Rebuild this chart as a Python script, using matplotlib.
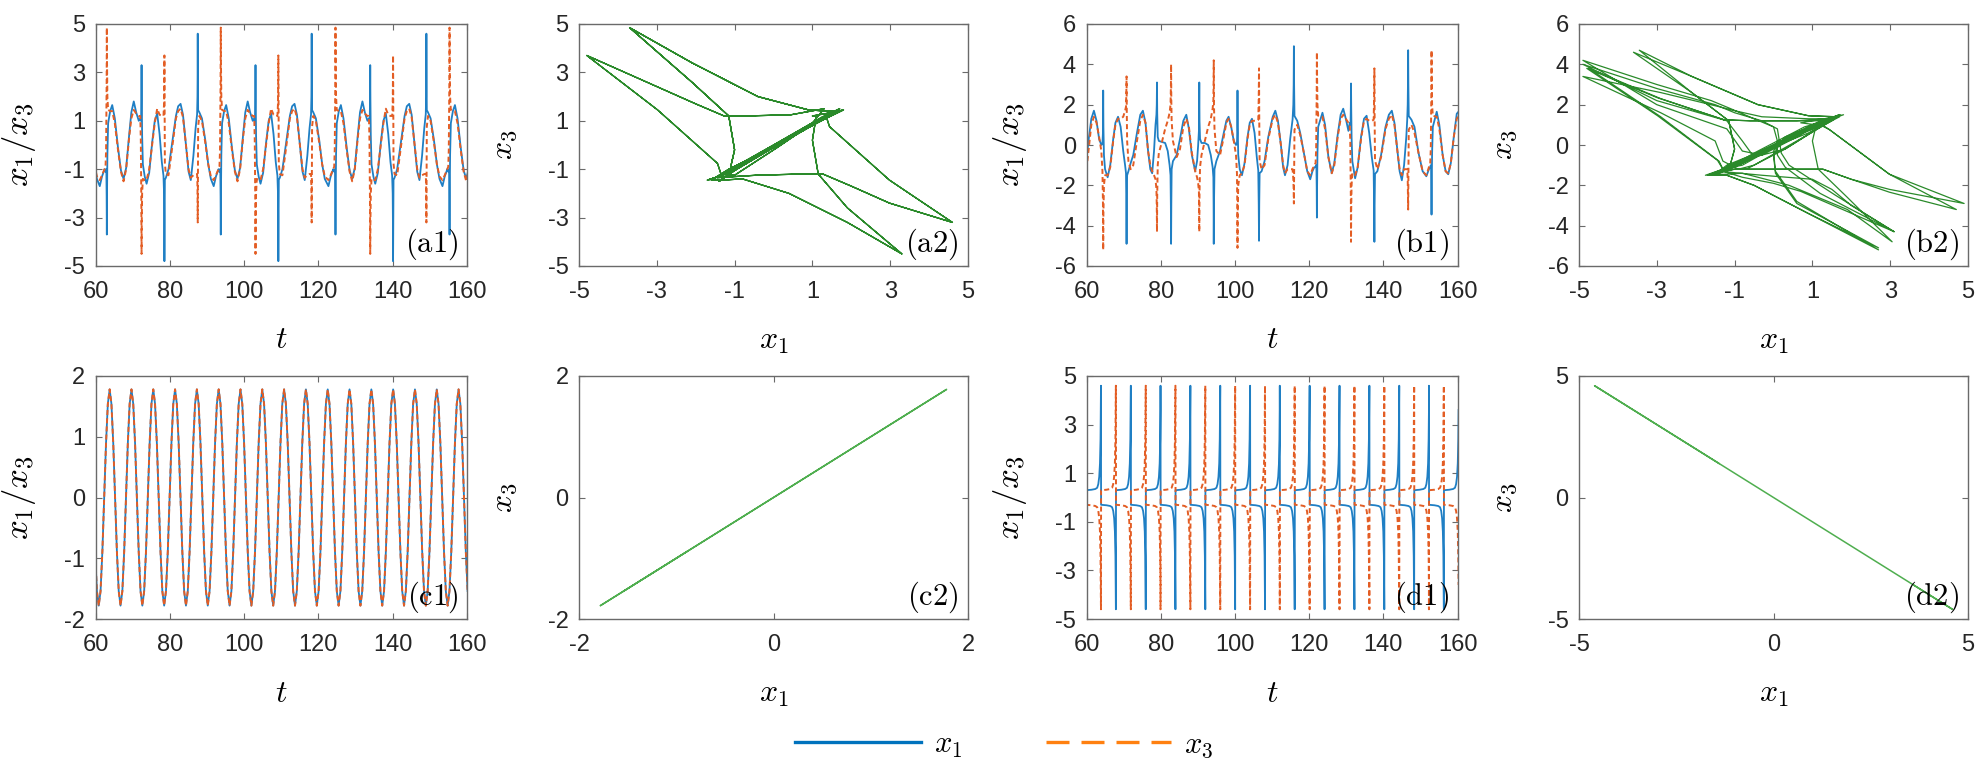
import numpy as np
import matplotlib
matplotlib.use("Agg")
import matplotlib.pyplot as plt
from matplotlib.lines import Line2D

plt.rcParams['font.family'] = ['Liberation Sans', 'DejaVu Sans']
plt.rcParams['mathtext.fontset'] = 'cm'
plt.rcParams['axes.unicode_minus'] = False

BLUE = '#1f7fc4'
ORANGE = '#e35d24'
GREEN = '#2a8a2a'
LIGHT_GREEN = '#4fae4f'
AXIS_GREY = '#6a6a6a'

a1_starts = [32.38, 63.05, 93.72, 124.6, 155.3]
a1_motif = [
    (-1.9, -1.7, -1.45), (-1.3, -1.3, -1.25), (-0.6, -1.0, -1.0),
    (-0.35, -1.1, -0.9), (-0.2, -1.0, -0.2), (-0.12, -1.15, 1.2),
    (-0.05, -2.1, 2.6), (0.0, -3.7, 4.85), (0.05, -2.1, 3.4),
    (0.15, -0.4, 2.0), (0.35, 0.9, 1.45), (0.9, 1.4, 1.4),
    (1.45, 1.65, 1.4), (2.15, 1.1, 0.9), (3.0, -0.1, -0.2),
    (3.8, -1.05, -1.1), (4.5, -1.4, -1.5), (5.2, -0.95, -1.0),
    (6.0, 0.4, 0.3), (6.6, 1.35, 1.1), (7.25, 1.8, 1.45),
    (7.9, 1.35, 1.3), (8.6, 1.0, 1.2), (9.0, 1.1, 1.2),
    (9.15, 1.0, 0.2), (9.23, 1.15, -1.2), (9.3, 1.9, -2.6),
    (9.35, 3.3, -4.5), (9.4, 1.9, -3.2), (9.5, 0.4, -2.0),
    (9.7, -0.8, -1.4), (10.2, -1.3, -1.45), (10.7, -1.6, -1.45),
    (11.4, -1.15, -1.0), (12.2, 0.1, 0.0), (12.9, 1.0, 0.9),
    (13.55, 1.3, 1.5), (14.2, 0.45, 1.25), (14.8, -0.7, 1.2),
    (15.25, -1.27, 1.2), (15.4, -2.0, 1.7), (15.45, -2.98, 2.4),
    (15.5, -4.8, 3.7), (15.55, -2.98, 1.45), (15.62, -1.44, -0.76),
    (15.9, -1.35, -1.2), (16.6, -1.0, -1.25), (17.6, 0.1, -0.1),
    (18.6, 1.2, 1.1), (19.2, 1.6, 1.4), (19.85, 1.7, 1.5),
    (20.5, 1.25, 1.15), (21.3, 0.0, 0.0), (22.0, -1.1, -1.0),
    (22.6, -1.45, -1.35), (23.3, -0.45, -1.25), (23.9, 0.7, -1.2),
    (24.3, 1.27, -1.2), (24.4, 2.0, -1.7), (24.44, 2.98, -2.4),
    (24.47, 4.6, -3.2), (24.51, 2.98, -1.45), (24.58, 1.44, 0.76),
    (24.9, 1.35, 1.2), (25.6, 1.1, 1.0), (26.5, 0.2, 0.1),
    (27.3, -0.8, -0.8), (28.0, -1.4, -1.3),
]

# ---- (b1) samples: (t, x1, x3)
b1_samples = [
    (60.0, -0.7, -1.2), (60.6, 0.3, -0.2), (61.3, 1.3, 1.0), (62.0, 1.7, 1.4),
    (62.7, 1.2, 1.1), (63.4, 0.3, 0.4), (64.0, 0.0, -0.3), (64.3, 0.05, -1.3),
    (64.43, 0.6, -2.8), (64.5, 2.7, -5.2), (64.56, 0.9, -3.4), (64.7, -0.5, -2.0),
    (65.0, -1.2, -1.5), (65.7, -1.6, -1.5), (66.4, -1.0, -1.1), (67.2, 0.3, 0.2),
    (67.8, 1.1, 1.0), (68.5, 1.4, 1.3), (69.2, 0.9, 1.3), (69.9, -0.3, 1.4),
    (70.4, -1.0, 1.7), (70.65, -1.4, 1.9), (70.74, -2.9, 2.6), (70.8, -4.9, 3.4),
    (70.86, -2.9, 1.6), (70.95, -1.5, 0.2), (71.3, -1.3, -0.8), (71.9, -0.9, -1.2),
    (72.6, -0.5, -1.0), (73.6, 0.6, 0.2), (74.5, 1.5, 1.2), (75.2, 1.7, 1.5),
    (75.9, 1.1, 1.1), (76.6, -0.3, -0.3), (77.2, -1.2, -1.0), (77.7, -1.4, -1.3),
    (78.2, -0.3, -1.5), (78.6, 1.0, -1.7), (78.85, 1.5, -2.2), (78.94, 2.0, -3.0),
    (79.0, 3.1, -4.3), (79.06, 1.6, -2.5), (79.2, 0.4, -1.0), (79.5, 0.2, -0.4),
    (80.4, 0.15, 0.2), (81.2, 0.1, 0.8), (81.9, -0.3, 1.2), (82.4, -1.0, 1.6),
    (82.65, -1.5, 2.0), (82.74, -3.0, 2.8), (82.8, -4.9, 4.0), (82.86, -3.0, 2.2),
    (82.95, -1.2, 1.2), (83.3, -0.8, 0.2), (84.3, -0.5, -0.6), (85.2, 0.3, -0.2),
    (86.1, 1.2, 0.9), (86.9, 1.5, 1.3), (87.6, 0.8, 0.9), (88.4, -0.5, -0.4),
    (89.3, -1.3, -1.3), (89.8, -0.8, -1.6), (90.1, 0.0, -1.9), (90.3, 0.7, -2.3),
    (90.4, 3.1, -4.3), (90.46, 1.2, -2.4), (90.6, 0.3, -1.1), (91.0, 0.1, -0.5),
    (91.9, 0.1, 0.2), (92.8, 0.0, 0.9), (93.5, -0.5, 1.3), (94.0, -1.1, 1.8),
    (94.2, -1.6, 2.2), (94.26, -3.0, 3.0), (94.3, -4.9, 4.2), (94.36, -3.0, 2.0),
    (94.5, -1.2, 0.8), (95.0, -0.8, -0.3), (96.0, -0.3, -0.5), (97.0, 0.6, 0.4),
    (97.7, 1.2, 1.1), (98.3, 1.4, 1.3), (99.0, 0.9, 0.9), (99.7, 0.2, 0.2),
    (100.3, 0.0, -0.5), (100.55, 0.05, -1.4), (100.64, 0.6, -2.9), (100.7, 2.7, -5.1),
    (100.76, 0.9, -3.4), (100.9, -0.5, -2.0), (101.3, -1.2, -1.5), (101.9, -1.5, -1.4),
    (102.6, -0.9, -1.0), (103.4, 0.4, 0.3), (104.0, 1.1, 1.0), (104.6, 1.3, 1.2),
    (105.3, 0.6, 1.2), (105.9, -0.6, 1.2), (106.3, -1.27, 1.25), (106.42, -2.9, 2.3),
    (106.5, -4.75, 3.8), (106.56, -2.9, 1.4), (106.66, -1.4, -0.8), (107.2, -1.3, -1.2),
    (108.0, -0.8, -1.0), (109.0, 0.4, 0.3), (110.2, 1.4, 1.3), (110.9, 1.7, 1.5),
    (111.6, 1.2, 1.1), (112.4, 0.0, 0.0), (113.0, -1.1, -1.0), (113.5, -1.5, -1.4),
    (114.2, -1.0, -1.2), (114.9, 0.3, -1.2), (115.55, 1.27, -1.2), (115.75, 2.0, -1.7),
    (115.84, 2.98, -2.2), (115.9, 4.9, -2.9), (115.96, 2.98, -1.45), (116.06, 1.44, 0.76),
    (116.8, 1.2, 1.0), (117.6, 0.6, 0.5), (118.6, -0.4, -0.4), (119.5, -1.3, -1.3),
    (120.3, -1.7, -1.5), (120.9, -1.3, -1.2), (121.4, -1.1, -1.0), (121.75, -1.1, -0.9),
    (121.9, -1.0, -0.2), (121.98, -1.15, 1.2), (122.05, -2.1, 2.6), (122.1, -3.6, 4.6),
    (122.15, -2.1, 3.4), (122.25, -0.4, 2.0), (122.45, 0.9, 1.45), (123.6, 1.6, 1.4),
    (124.3, 1.0, 0.8), (125.2, -0.6, -0.6), (126.1, -1.4, -1.4), (126.8, -0.9, -1.0),
    (127.7, 0.5, 0.4), (128.5, 1.5, 1.3), (129.2, 1.8, 1.5), (129.9, 1.3, 1.3),
    (130.6, 0.7, 1.1), (130.95, 1.1, 1.0), (131.1, 1.0, 0.2), (131.18, 1.15, -1.2),
    (131.25, 1.9, -2.6), (131.3, 3.05, -4.8), (131.35, 1.9, -3.2), (131.45, 0.4, -2.0),
    (131.65, -0.8, -1.4), (132.4, -1.65, -1.5), (133.1, -1.1, -1.1), (134.0, 0.4, 0.3),
    (134.8, 1.3, 1.2), (135.5, 1.45, 1.3), (136.2, 0.6, 1.2), (136.9, -0.6, 1.2),
    (137.4, -1.27, 1.25), (137.52, -2.98, 2.34), (137.6, -4.8, 3.8), (137.66, -2.98, 1.45),
    (137.76, -1.44, -0.76), (138.4, -1.3, -1.2), (139.4, -0.5, -0.6), (140.6, 0.9, 0.8),
    (141.5, 1.5, 1.3), (142.3, 1.7, 1.5), (143.0, 1.1, 1.0), (143.8, -0.3, -0.3),
    (144.4, -1.3, -1.2), (145.0, -1.75, -1.5), (145.6, -1.0, -1.2), (146.2, 0.4, -1.2),
    (146.45, 1.27, -1.2), (146.58, 2.0, -1.7), (146.64, 2.98, -2.34), (146.7, 4.7, -3.2),
    (146.76, 2.98, -1.45), (146.86, 1.44, 0.76), (147.6, 1.25, 1.0), (148.4, 0.9, 0.6),
    (149.5, -0.4, -0.4), (150.6, -1.3, -1.3), (151.6, -1.55, -1.5), (152.3, -1.2, -1.1),
    (152.65, -1.1, -0.9), (152.8, -1.0, -0.2), (152.88, -1.15, 1.2), (152.95, -2.1, 2.6),
    (153.0, -3.45, 4.7), (153.05, -2.1, 3.4), (153.15, -0.4, 2.0), (153.35, 0.9, 1.45),
    (154.4, 1.65, 1.4), (155.1, 1.0, 0.8), (156.0, -0.5, -0.5), (156.8, -1.3, -1.3),
    (157.5, -1.45, -1.4), (158.2, -0.9, -0.9), (159.0, 0.4, 0.4), (159.8, 1.55, 1.3),
    (160.5, 1.7, 1.5),
]

# ---- (c1) synchronised oscillation: trough times and one cycle (offset, x1, x3)
c1_troughs = [55.0, 60.87, 66.74, 72.61, 78.48, 84.35, 90.22, 96.09, 101.96,
              107.83, 113.70, 119.57, 125.44, 131.31, 137.18, 143.05, 148.92,
              154.79, 160.66]
c1_motif = [
    (0.0, -1.78, -1.78), (0.49, -1.54, -1.54), (0.98, -0.89, -0.89),
    (1.47, 0.0, 0.0), (1.96, 0.89, 0.89), (2.45, 1.54, 1.54),
    (2.94, 1.78, 1.78), (3.42, 1.54, 1.54), (3.91, 0.89, 0.89),
    (4.40, 0.0, 0.0), (4.89, -0.89, -0.89), (5.38, -1.54, -1.54),
]

# ---- (d1) anti-synchronised spikes: up-spike times and one period (offset, x1, x3)
d1_upspikes = [55.86, 63.9, 71.95, 79.95, 88.0, 96.05, 104.1, 112.1, 120.15,
               128.2, 136.25, 144.3, 152.3]
d1_motif = [
    (0.0, 4.6, -4.6), (0.03, -0.3, 0.3), (1.5, -0.32, 0.32), (2.5, -0.35, 0.35),
    (3.0, -0.4, 0.4), (3.3, -0.55, 0.55), (3.55, -0.85, 0.85), (3.75, -1.4, 1.4),
    (3.9, -2.4, 2.4), (3.98, -3.6, 3.6), (4.02, -4.6, 4.6), (4.05, 0.3, -0.3),
    (5.52, 0.32, -0.32), (6.52, 0.35, -0.35), (7.02, 0.4, -0.4), (7.32, 0.55, -0.55),
    (7.57, 0.85, -0.85), (7.77, 1.4, -1.4), (7.92, 2.4, -2.4), (8.0, 3.6, -3.6),
]

t_ticks = [60, 80, 100, 120, 140, 160]
odd5 = [-5, -3, -1, 1, 3, 5]
even6 = [-6, -4, -2, 0, 2, 4, 6]


def repeat_motif(starts, motif):
    m = np.array(motif)
    t = np.concatenate([s + m[:, 0] for s in starts])
    return t, np.tile(m[:, 1], len(starts)), np.tile(m[:, 2], len(starts))


def window(t, x1, x3, lo=60, hi=160):
    keep = (t >= lo - 0.5) & (t <= hi + 0.5)
    return t[keep], x1[keep], x3[keep]


a1 = window(*repeat_motif(a1_starts, a1_motif))
b1 = window(*np.array(b1_samples).T)
c1 = window(*repeat_motif(c1_troughs, c1_motif))
d1 = window(*repeat_motif(d1_upspikes, d1_motif))

W, H = 1977, 768
fig = plt.figure(figsize=(W / 100, H / 100), dpi=100)


def px_axes(left, top, width, height):
    return fig.add_axes([left / W, 1 - (top + height) / H, width / W, height / H])


def style(ax, xlim, xticks, ylim, yticks, xlabel, ylabel, tag, ysize=23):
    ax.set_xlim(*xlim)
    ax.set_ylim(*ylim)
    ax.set_xticks(xticks)
    ax.set_yticks(yticks)
    ax.tick_params(direction='in', top=True, right=True, length=4, width=0.8,
                   color=AXIS_GREY, labelcolor='#262626', labelsize=17)
    ax.tick_params(axis='x', pad=11)
    ax.tick_params(axis='y', pad=7.5)
    for s in ax.spines.values():
        s.set_color(AXIS_GREY)
        s.set_linewidth(1.0)
    ax.set_xlabel(xlabel, fontsize=23, va='baseline')
    ax.xaxis.set_label_coords(0.5, -0.34)
    ax.set_ylabel(ylabel, fontsize=ysize)
    ax.yaxis.set_label_coords(-0.155, 0.5)
    ax.text(0.976, 0.018, r'$\mathrm{(%s)}$' % tag, transform=ax.transAxes,
            ha='right', va='bottom', fontsize=22)


def time_panel(ax, data):
    t, x1, x3 = data
    ax.plot(t, x1, color=BLUE, lw=1.3)
    ax.plot(t, x3, color=ORANGE, lw=1.4, dashes=(2.6, 1.6))


cols = [(95.5, 371.5), (579, 389), (1086.5, 371), (1579, 389)]
rows = [(24, 242), (376, 243)]
tlab, xy_lab = r'$t$', r'$x_1/x_3$'

ax = px_axes(cols[0][0], rows[0][0], cols[0][1], rows[0][1])
time_panel(ax, a1)
style(ax, (60, 160), t_ticks, (-5, 5), odd5, tlab, xy_lab, 'a1', 25)

ax = px_axes(cols[1][0], rows[0][0], cols[1][1], rows[0][1])
ax.plot(a1[1], a1[2], color=GREEN, lw=0.9)
style(ax, (-5, 5), odd5, (-5, 5), odd5, r'$x_1$', r'$x_3$', 'a2')

ax = px_axes(cols[2][0], rows[0][0], cols[2][1], rows[0][1])
time_panel(ax, b1)
style(ax, (60, 160), t_ticks, (-6, 6), even6, tlab, xy_lab, 'b1', 25)

ax = px_axes(cols[3][0], rows[0][0], cols[3][1], rows[0][1])
ax.plot(b1[1], b1[2], color=GREEN, lw=0.9)
style(ax, (-5, 5), odd5, (-6, 6), even6, r'$x_1$', r'$x_3$', 'b2')

ax = px_axes(cols[0][0], rows[1][0], cols[0][1], rows[1][1])
time_panel(ax, c1)
style(ax, (60, 160), t_ticks, (-2, 2), [-2, -1, 0, 1, 2], tlab, xy_lab, 'c1', 25)

ax = px_axes(cols[1][0], rows[1][0], cols[1][1], rows[1][1])
ax.plot(c1[1], c1[2], color=LIGHT_GREEN, lw=1.1)
style(ax, (-2, 2), [-2, 0, 2], (-2, 2), [-2, 0, 2], r'$x_1$', r'$x_3$', 'c2')

ax = px_axes(cols[2][0], rows[1][0], cols[2][1], rows[1][1])
time_panel(ax, d1)
style(ax, (60, 160), t_ticks, (-5, 5), odd5, tlab, xy_lab, 'd1', 25)

ax = px_axes(cols[3][0], rows[1][0], cols[3][1], rows[1][1])
ax.plot(d1[1], d1[2], color=LIGHT_GREEN, lw=1.1)
style(ax, (-5, 5), [-5, 0, 5], (-5, 5), [-5, 0, 5], r'$x_1$', r'$x_3$', 'd2')

handles = [Line2D([], [], color='#0072bd', lw=2.4),
           Line2D([], [], color='#ff8010', lw=2.4, dashes=(6.9, 3.6))]
fig.legend(handles, [r'$x_1$', r'$x_3$'], loc='center', bbox_to_anchor=(0.508, 0.03),
           ncol=2, frameon=False, fontsize=22, handlelength=4.1,
           handletextpad=0.42, columnspacing=2.75)

fig.savefig('out.png', dpi=100, facecolor='white')
